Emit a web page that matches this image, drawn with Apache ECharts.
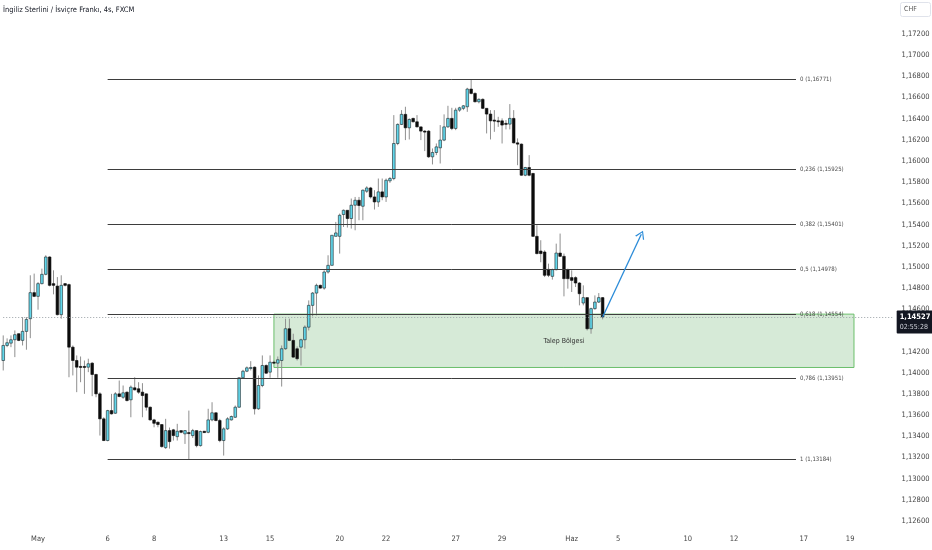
<!DOCTYPE html>
<html><head><meta charset="utf-8">
<script src="https://cdn.jsdelivr.net/npm/echarts@6/dist/echarts.min.js"></script>
<style>html,body{margin:0;padding:0;background:#ffffff}#c{width:932px;height:550px}</style>
</head><body><div id="c"></div>
<script>
// ---- data (4h candles, index 0 = 1 May 00:00) ----
const firstIndex = -9;
const lastSlot = 221;
const opens = [1.14116,1.14258,1.14280,1.14312,1.14369,1.14306,1.14391,1.14511,1.14757,
1.14722,1.14842,1.14930,1.15094,1.14842,1.14819,1.14549,1.14842,1.14833,1.14242,
1.14116,1.14060,1.14060,1.14053,1.14091,1.13984,1.13801,1.13565,1.13360,1.13643,
1.13618,1.13801,1.13769,1.13817,1.13745,1.13858,1.13849,1.13817,1.13801,1.13675,
1.13555,1.13533,1.13511,1.13293,1.13454,1.13461,1.13397,1.13454,1.13423,1.13435,
1.13407,1.13454,1.13312,1.13448,1.13438,1.13555,1.13622,1.13549,1.13360,1.13470,
1.13555,1.13580,1.13675,1.13953,1.14015,1.14041,1.14053,1.13660,1.13880,1.14069,
1.14006,1.14100,1.14091,1.14116,1.14227,1.14416,1.14306,1.14227,1.14242,1.14312,
1.14431,1.14637,1.14753,1.14826,1.14800,1.14952,1.15015,1.15289,1.15289,1.15495,
1.15535,1.15457,1.15583,1.15630,1.15573,1.15715,1.15746,1.15661,1.15614,1.15709,
1.15661,1.15813,1.15835,1.16166,1.16346,1.16441,1.16314,1.16403,1.16371,1.16323,
1.16283,1.16283,1.16040,1.16081,1.16125,1.16198,1.16323,1.16403,1.16308,1.16481,
1.16498,1.16513,1.16680,1.16639,1.16560,1.16583,1.16498,1.16444,1.16387,1.16380,
1.16380,1.16356,1.16349,1.16403,1.16172,1.16160,1.15866,1.15939,1.15883,1.15289,
1.15150,1.15141,1.14977,1.14911,1.14974,1.15131,1.15100,1.14974,1.14899,1.14899,
1.14848,1.14659,1.14710,1.14416,1.14606,1.14668,1.14710];
const highs = [1.14353,1.14325,1.14353,1.14400,1.14372,1.14526,1.14526,1.14921,1.14937,
1.14857,1.14984,1.15110,1.15100,1.14968,1.14904,1.14921,1.14848,1.14842,1.14258,
1.14164,1.14154,1.14116,1.14133,1.14100,1.13991,1.13817,1.13580,1.13650,1.13801,
1.13817,1.13927,1.13880,1.13823,1.13880,1.13958,1.13911,1.13902,1.13804,1.13681,
1.13565,1.13539,1.13516,1.13565,1.13483,1.13470,1.13518,1.13454,1.13459,1.13643,
1.13470,1.13454,1.13454,1.13450,1.13660,1.13722,1.13627,1.13565,1.13485,1.13580,
1.13596,1.13691,1.13956,1.14028,1.14060,1.14110,1.14060,1.13975,1.14164,1.14079,
1.14164,1.14116,1.14154,1.14258,1.14511,1.14511,1.14369,1.14249,1.14322,1.14448,
1.14684,1.14763,1.14842,1.14833,1.14968,1.15110,1.15299,1.15425,1.15504,1.15542,
1.15535,1.15646,1.15661,1.15661,1.15731,1.15762,1.15756,1.15725,1.15835,1.15835,
1.15835,1.15850,1.16434,1.16356,1.16481,1.16513,1.16403,1.16409,1.16434,1.16323,
1.16292,1.16292,1.16119,1.16166,1.16340,1.16441,1.16522,1.16503,1.16503,1.16513,
1.16529,1.16692,1.16771,1.16649,1.16592,1.16592,1.16498,1.16481,1.16481,1.16418,
1.16403,1.16387,1.16538,1.16481,1.16214,1.16166,1.15945,1.16056,1.15888,1.15394,
1.15252,1.15157,1.15031,1.14984,1.15220,1.15315,1.15126,1.14984,1.14968,1.14911,
1.14857,1.14826,1.14710,1.14615,1.14731,1.14753,1.14715];
const lows = [1.14022,1.14242,1.14242,1.14148,1.14299,1.14258,1.14218,1.14327,1.14715,
1.14596,1.14835,1.14921,1.14816,1.14741,1.14542,1.14511,1.14816,1.13958,1.13975,
1.13817,1.13911,1.13801,1.14006,1.13779,1.13769,1.13407,1.13355,1.13353,1.13606,
1.13612,1.13769,1.13754,1.13729,1.13580,1.13833,1.13801,1.13580,1.13643,1.13549,
1.13485,1.13485,1.13293,1.13281,1.13284,1.13360,1.13360,1.13429,1.13328,1.13184,
1.13385,1.13296,1.13303,1.13431,1.13429,1.13542,1.13542,1.13344,1.13218,1.13461,
1.13549,1.13574,1.13669,1.13943,1.14006,1.14022,1.13606,1.13650,1.13864,1.13991,
1.13953,1.14088,1.13953,1.13870,1.14218,1.14299,1.14142,1.14116,1.14069,1.14227,
1.14400,1.14533,1.14542,1.14795,1.14785,1.14937,1.15015,1.15289,1.15126,1.15377,
1.15372,1.15362,1.15346,1.15441,1.15441,1.15699,1.15646,1.15542,1.15567,1.15630,
1.15614,1.15794,1.15819,1.16150,1.16340,1.16198,1.16204,1.16365,1.16318,1.16198,
1.16094,1.16030,1.15968,1.16056,1.15977,1.16188,1.16314,1.16292,1.16292,1.16465,
1.16481,1.16465,1.16630,1.16554,1.16545,1.16491,1.16261,1.16204,1.16276,1.16323,
1.16166,1.16299,1.16299,1.16166,1.15961,1.15862,1.15857,1.15857,1.15283,1.15119,
1.15044,1.14904,1.14904,1.14880,1.14968,1.15094,1.14722,1.14795,1.14763,1.14810,
1.14637,1.14637,1.14400,1.14369,1.14596,1.14659,1.14504];
const closes = [1.14258,1.14284,1.14312,1.14360,1.14306,1.14391,1.14504,1.14757,1.14722,
1.14842,1.14930,1.15094,1.14826,1.14826,1.14549,1.14826,1.14826,1.14242,1.14116,
1.14053,1.14053,1.14053,1.14085,1.13984,1.13801,1.13565,1.13360,1.13643,1.13612,
1.13801,1.13776,1.13811,1.13738,1.13864,1.13839,1.13817,1.13785,1.13675,1.13555,
1.13523,1.13511,1.13303,1.13454,1.13350,1.13407,1.13448,1.13438,1.13454,1.13426,
1.13454,1.13312,1.13445,1.13435,1.13555,1.13622,1.13549,1.13360,1.13470,1.13565,
1.13587,1.13675,1.13953,1.14015,1.14047,1.14050,1.13660,1.13880,1.14069,1.13996,
1.14100,1.14091,1.14123,1.14227,1.14416,1.14306,1.14148,1.14133,1.14312,1.14431,
1.14637,1.14753,1.14826,1.14800,1.14952,1.15015,1.15299,1.15321,1.15488,1.15535,
1.15457,1.15583,1.15630,1.15580,1.15725,1.15746,1.15661,1.15614,1.15709,1.15661,
1.15819,1.15835,1.16166,1.16346,1.16441,1.16314,1.16393,1.16371,1.16323,1.16283,
1.16276,1.16040,1.16081,1.16134,1.16198,1.16323,1.16403,1.16308,1.16481,1.16503,
1.16522,1.16680,1.16639,1.16560,1.16583,1.16498,1.16444,1.16380,1.16377,1.16371,
1.16340,1.16349,1.16403,1.16172,1.16160,1.15866,1.15939,1.15866,1.15289,1.15126,
1.15126,1.14921,1.14921,1.14974,1.15131,1.15100,1.14889,1.14889,1.14873,1.14848,
1.14747,1.14710,1.14416,1.14606,1.14668,1.14710,1.14527];

const tickIndex = [0,18,30,48,60,78,90,108,120,138,150,168,180,198,210];
const tickText  = ['May','6','8','13','15','20','22','27','29','Haz','5','10','12','17','19'];

const fibLevels = [0,0.236,0.382,0.5,0.618,0.786,1];
const fibPrices = [1.16771,1.15925,1.15401,1.14978,1.14554,1.13951,1.13184];
const fibStartIndex = 18, fibEndIndex = 196;

const zoneTop = 1.14554, zoneBottom = 1.14050, zoneStartIndex = 61, zoneEndIndex = 211;
const zoneLabel = 'Talep Bölgesi';

const lastPrice = 1.14527;
const countdown = '02:55:28';
const arrowFrom = [146, 1.14527];
const arrowTo = [156, 1.15308];

const chartTitle = 'İngiliz Sterlini / İsviçre Frankı, 4s, FXCM';
const currency = 'CHF';

// ---- build ----
const FF = "'Liberation Sans Narrow','DejaVu Sans Condensed','Liberation Sans',sans-serif";
const fmt = v => v.toFixed(5).replace('.', ',');
const slots = [];
for (let i = firstIndex; i <= lastSlot; i++) slots.push(String(i));
const tickMap = new Map(tickIndex.map((t, n) => [String(t), tickText[n]]));
const k = i => i - firstIndex;
const candleData = opens.map((o, j) => [j, o, closes[j], lows[j], highs[j]]);

function renderItem(params, api) {
  const x = api.value(0), o = api.value(1), c = api.value(2), l = api.value(3), h = api.value(4);
  const pO = api.coord([x, o]), pC = api.coord([x, c]), pL = api.coord([x, l]), pH = api.coord([x, h]);
  const w = api.size([1, 0])[0] * 0.68;
  const up = c >= o;
  const top = Math.min(pO[1], pC[1]);
  const hgt = Math.max(Math.abs(pO[1] - pC[1]), 1);
  return {
    type: 'group',
    children: [
      { type: 'line', shape: { x1: pH[0], y1: pH[1], x2: pL[0], y2: pL[1] },
        style: { stroke: '#8f8f8f', lineWidth: 1 } },
      { type: 'rect', shape: { x: pO[0] - w / 2, y: top, width: w, height: hgt },
        style: { fill: up ? '#62d6ea' : '#0c0c0c', stroke: up ? '#1d2529' : '#0c0c0c', lineWidth: 0.6 } }
    ]
  };
}

const fibLines = fibPrices.map((p, n) => [
  { coord: [k(fibStartIndex), p],
    lineStyle: { color: '#3d3d3d', width: 1, type: 'solid' },
    label: { show: true, position: 'end', distance: 4, color: '#4a4a4a', fontSize: 6, fontFamily: FF,
             formatter: String(fibLevels[n]).replace('.', ',') + ' (' + fmt(p) + ')' } },
  { coord: [k(fibEndIndex), p] }
]);

const priceLine = [
  { coord: [0, lastPrice],
    lineStyle: { color: '#9aa0a6', width: 1, type: [1, 2] },
    label: { show: true, position: 'end', distance: 4, offset: [0, 5],
      formatter: '{a|' + fmt(lastPrice) + '}\n{b|' + countdown + '}',
      backgroundColor: '#131722', padding: [2, 3, 2, 3], borderRadius: 1,
      rich: {
        a: { color: '#ffffff', fontSize: 7.5, fontWeight: 'bold', fontFamily: FF, lineHeight: 10 },
        b: { color: '#d1d4dc', fontSize: 7, fontFamily: FF, lineHeight: 9 }
      } } },
  { coord: [slots.length - 1, lastPrice] }
];

const chart = echarts.init(document.getElementById('c'), null, { renderer: 'canvas' });
chart.setOption({
  backgroundColor: '#ffffff',
  animation: false,
  title: [
    { text: chartTitle, left: 3, top: 6, padding: 0,
      textStyle: { fontSize: 7.5, fontWeight: 'normal', color: '#131722', fontFamily: FF } },
    { text: currency, left: 900, top: 2, padding: [4, 14, 4, 4],
      borderColor: '#e0e3eb', borderWidth: 1, borderRadius: 2, backgroundColor: '#ffffff',
      textStyle: { fontSize: 7, fontWeight: 'normal', color: '#555', fontFamily: FF } }
  ],
  grid: { left: 1.3, right: 37.4, top: 12.85, bottom: 29, containLabel: false, outerBoundsMode: 'none' },
  xAxis: {
    type: 'category', data: slots, boundaryGap: true,
    axisLine: { show: false }, axisTick: { show: false }, splitLine: { show: false },
    axisLabel: {
      interval: (idx, val) => tickMap.has(val),
      formatter: val => tickMap.get(val) || '',
      margin: 14, color: '#444', fontSize: 7.5, fontFamily: FF
    }
  },
  yAxis: {
    type: 'value', position: 'right', min: 1.126, max: 1.174, interval: 0.002,
    splitLine: { show: false }, axisLine: { show: false }, axisTick: { show: false },
    axisLabel: { margin: 7, color: '#444', fontSize: 7.5, fontFamily: FF, formatter: fmt, showMaxLabel: false }
  },
  series: [
    {
      type: 'line', data: [], z: 1, silent: true,
      markArea: {
        silent: true,
        itemStyle: { color: 'rgba(67,160,71,0.22)', borderColor: '#6cbf6c', borderWidth: 1 },
        label: { show: true, position: 'inside', color: '#333', fontSize: 7, fontFamily: FF },
        data: [[ { name: zoneLabel, coord: [k(zoneStartIndex), zoneTop] }, { coord: [k(zoneEndIndex), zoneBottom] } ]]
      },
      markLine: {
        silent: true, symbol: 'none', animation: false,
        data: fibLines.concat([priceLine])
      }
    },
    {
      type: 'custom', name: 'GBPCHF', data: candleData, encode: { x: 0, y: [1, 2, 3, 4] },
      renderItem: renderItem, z: 3, animation: false, silent: true,
      markLine: {
        silent: true, animation: false,
        data: [[
          { coord: [k(arrowFrom[0]), arrowFrom[1]], symbol: 'none',
            lineStyle: { color: '#2a8bd8', width: 1.3, type: 'solid' }, label: { show: false } },
          { coord: [k(arrowTo[0]), arrowTo[1]],
            symbol: 'path://M0,10 L5,0 L10,10 L8.6,10 L5,2.6 L1.4,10 Z', symbolSize: [10, 8] }
        ]]
      }
    }
  ]
});
</script>
</body></html>
